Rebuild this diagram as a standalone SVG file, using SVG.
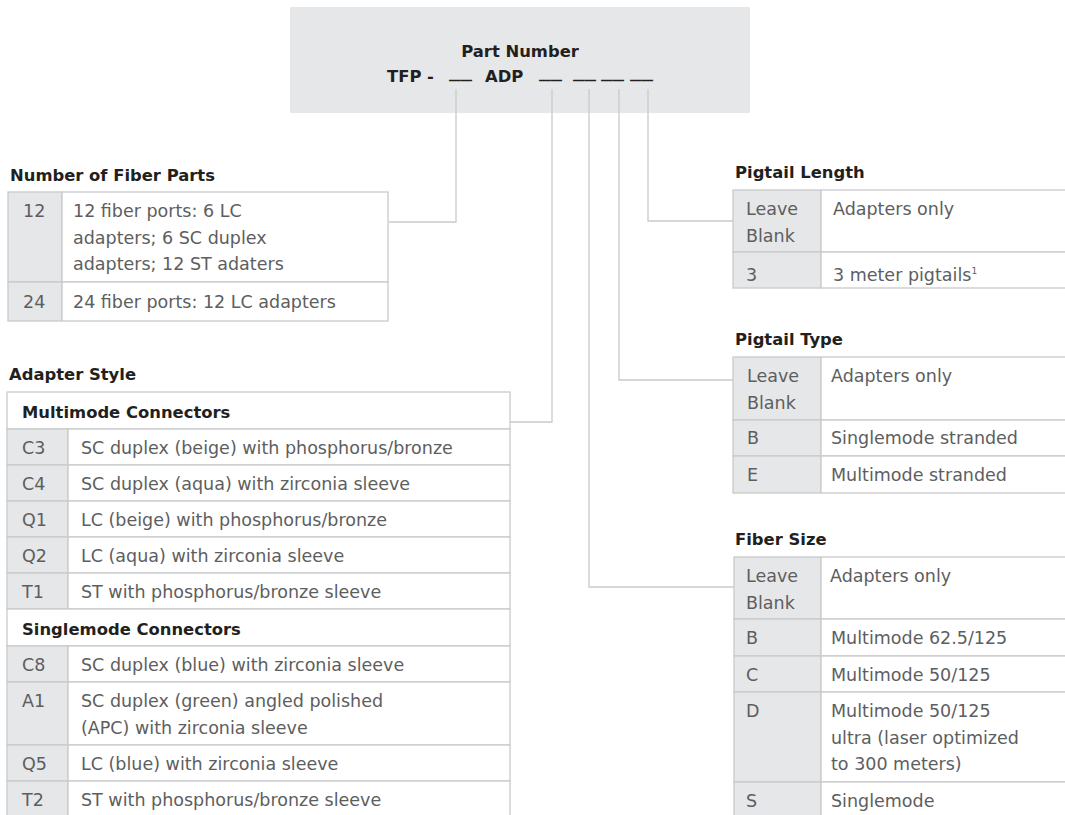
<svg xmlns="http://www.w3.org/2000/svg" width="1065" height="815" viewBox="0 0 1065 815">
<style>
  .t{font-family:"DejaVu Sans","Liberation Sans",sans-serif;font-weight:bold;font-size:16.4px;fill:#231f20}
  .b{font-family:"DejaVu Sans","Liberation Sans",sans-serif;font-size:17.5px;fill:#5d5e60}
  .k{fill:#e6e7e8;stroke:#c9cacc;stroke-width:1.3}
  .d{fill:#ffffff;stroke:#c9cacc;stroke-width:1.3}
  .c{fill:none;stroke:#c9cacc;stroke-width:1.3}
</style>
<rect width="1065" height="815" fill="#ffffff"/>

<g id="header">
  <rect x="290" y="7" width="460" height="106" fill="#e6e7e8"/>
  <text class="t" x="520" y="57" text-anchor="middle">Part Number</text>
  <text class="t" x="387" y="82">TFP -</text>
  <text class="t" x="485" y="82">ADP</text>
  <text class="t" y="77.5"><tspan x="449" textLength="23" lengthAdjust="spacingAndGlyphs">__</tspan><tspan x="539" textLength="23" lengthAdjust="spacingAndGlyphs">__</tspan><tspan x="573" textLength="23" lengthAdjust="spacingAndGlyphs">__</tspan><tspan x="601" textLength="23" lengthAdjust="spacingAndGlyphs">__</tspan><tspan x="630" textLength="23" lengthAdjust="spacingAndGlyphs">__</tspan></text>
</g>

<g id="connectors">
  <path class="c" d="M456,89 V222 H389"/>
  <path class="c" d="M552,89 V422 H510"/>
  <path class="c" d="M589,89 V587 H734"/>
  <path class="c" d="M619,89 V380 H733"/>
  <path class="c" d="M648,89 V221 H733"/>
</g>

<g id="fiber-parts">
  <text class="t" x="10" y="181">Number of Fiber Parts</text>
  <rect class="k" x="8" y="192" width="54" height="90"/>
  <rect class="d" x="62" y="192" width="326" height="90"/>
  <rect class="k" x="8" y="282" width="54" height="39"/>
  <rect class="d" x="62" y="282" width="326" height="39"/>
  <text class="b" x="23" y="217">12</text>
  <text class="b" x="73" y="217">12 fiber ports: 6 LC</text>
  <text class="b" x="73" y="243.5">adapters; 6 SC duplex</text>
  <text class="b" x="73" y="270">adapters; 12 ST adaters</text>
  <text class="b" x="23" y="308">24</text>
  <text class="b" x="73" y="308">24 fiber ports: 12 LC adapters</text>
</g>

<g id="adapter-style">
  <text class="t" x="9" y="380">Adapter Style</text>
  <rect class="d" x="7" y="392" width="503" height="37"/>
  <text class="t" x="22" y="418">Multimode Connectors</text>
  <rect class="k" x="7" y="429" width="61" height="36"/><rect class="d" x="68" y="429" width="442" height="36"/>
  <rect class="k" x="7" y="465" width="61" height="36"/><rect class="d" x="68" y="465" width="442" height="36"/>
  <rect class="k" x="7" y="501" width="61" height="36"/><rect class="d" x="68" y="501" width="442" height="36"/>
  <rect class="k" x="7" y="537" width="61" height="36"/><rect class="d" x="68" y="537" width="442" height="36"/>
  <rect class="k" x="7" y="573" width="61" height="36"/><rect class="d" x="68" y="573" width="442" height="36"/>
  <rect class="d" x="7" y="609" width="503" height="37"/>
  <text class="t" x="22" y="635">Singlemode Connectors</text>
  <rect class="k" x="7" y="646" width="61" height="36"/><rect class="d" x="68" y="646" width="442" height="36"/>
  <rect class="k" x="7" y="682" width="61" height="63"/><rect class="d" x="68" y="682" width="442" height="63"/>
  <rect class="k" x="7" y="745" width="61" height="36"/><rect class="d" x="68" y="745" width="442" height="36"/>
  <rect class="k" x="7" y="781" width="61" height="40"/><rect class="d" x="68" y="781" width="442" height="40"/>
  <text class="b" x="22" y="454">C3</text><text class="b" x="81" y="454">SC duplex (beige) with phosphorus/bronze</text>
  <text class="b" x="22" y="490">C4</text><text class="b" x="81" y="490">SC duplex (aqua) with zirconia sleeve</text>
  <text class="b" x="22" y="526">Q1</text><text class="b" x="81" y="526">LC (beige) with phosphorus/bronze</text>
  <text class="b" x="22" y="562">Q2</text><text class="b" x="81" y="562">LC (aqua) with zirconia sleeve</text>
  <text class="b" x="22" y="598">T1</text><text class="b" x="81" y="598">ST with phosphorus/bronze sleeve</text>
  <text class="b" x="22" y="671">C8</text><text class="b" x="81" y="671">SC duplex (blue) with zirconia sleeve</text>
  <text class="b" x="22" y="707">A1</text><text class="b" x="81" y="707">SC duplex (green) angled polished</text>
  <text class="b" x="81" y="733.5">(APC) with zirconia sleeve</text>
  <text class="b" x="22" y="770">Q5</text><text class="b" x="81" y="770">LC (blue) with zirconia sleeve</text>
  <text class="b" x="22" y="806">T2</text><text class="b" x="81" y="806">ST with phosphorus/bronze sleeve</text>
</g>

<g id="pigtail-length">
  <text class="t" x="735" y="178">Pigtail Length</text>
  <rect class="k" x="733" y="190" width="88" height="62"/><rect class="d" x="821" y="190" width="260" height="62"/>
  <rect class="k" x="733" y="252" width="88" height="36"/><rect class="d" x="821" y="252" width="260" height="36"/>
  <text class="b" x="746" y="215">Leave</text>
  <text class="b" x="746" y="241.5">Blank</text>
  <text class="b" x="833" y="215">Adapters only</text>
  <text class="b" x="746" y="281">3</text>
  <text class="b" x="833" y="281">3 meter pigtails<tspan font-size="9" dy="-7">1</tspan></text>
</g>

<g id="pigtail-type">
  <text class="t" x="735" y="345">Pigtail Type</text>
  <rect class="k" x="733" y="357" width="88" height="63"/><rect class="d" x="821" y="357" width="260" height="63"/>
  <rect class="k" x="733" y="420" width="88" height="36"/><rect class="d" x="821" y="420" width="260" height="36"/>
  <rect class="k" x="733" y="456" width="88" height="37"/><rect class="d" x="821" y="456" width="260" height="37"/>
  <text class="b" x="747" y="382">Leave</text>
  <text class="b" x="747" y="408.5">Blank</text>
  <text class="b" x="831" y="382">Adapters only</text>
  <text class="b" x="747" y="444">B</text>
  <text class="b" x="831" y="444">Singlemode stranded</text>
  <text class="b" x="747" y="481">E</text>
  <text class="b" x="831" y="481">Multimode stranded</text>
</g>

<g id="fiber-size">
  <text class="t" x="735" y="545">Fiber Size</text>
  <rect class="k" x="734" y="557" width="87" height="62"/><rect class="d" x="821" y="557" width="260" height="62"/>
  <rect class="k" x="734" y="619" width="87" height="37"/><rect class="d" x="821" y="619" width="260" height="37"/>
  <rect class="k" x="734" y="656" width="87" height="36"/><rect class="d" x="821" y="656" width="260" height="36"/>
  <rect class="k" x="734" y="692" width="87" height="90"/><rect class="d" x="821" y="692" width="260" height="90"/>
  <rect class="k" x="734" y="782" width="87" height="40"/><rect class="d" x="821" y="782" width="260" height="40"/>
  <text class="b" x="746" y="582">Leave</text>
  <text class="b" x="746" y="608.5">Blank</text>
  <text class="b" x="830" y="582">Adapters only</text>
  <text class="b" x="746" y="644">B</text>
  <text class="b" x="831" y="644">Multimode 62.5/125</text>
  <text class="b" x="746" y="681">C</text>
  <text class="b" x="831" y="681">Multimode 50/125</text>
  <text class="b" x="746" y="717">D</text>
  <text class="b" x="831" y="717">Multimode 50/125</text>
  <text class="b" x="831" y="743.5">ultra (laser optimized</text>
  <text class="b" x="831" y="770">to 300 meters)</text>
  <text class="b" x="746" y="807">S</text>
  <text class="b" x="831" y="807">Singlemode</text>
</g>
</svg>
